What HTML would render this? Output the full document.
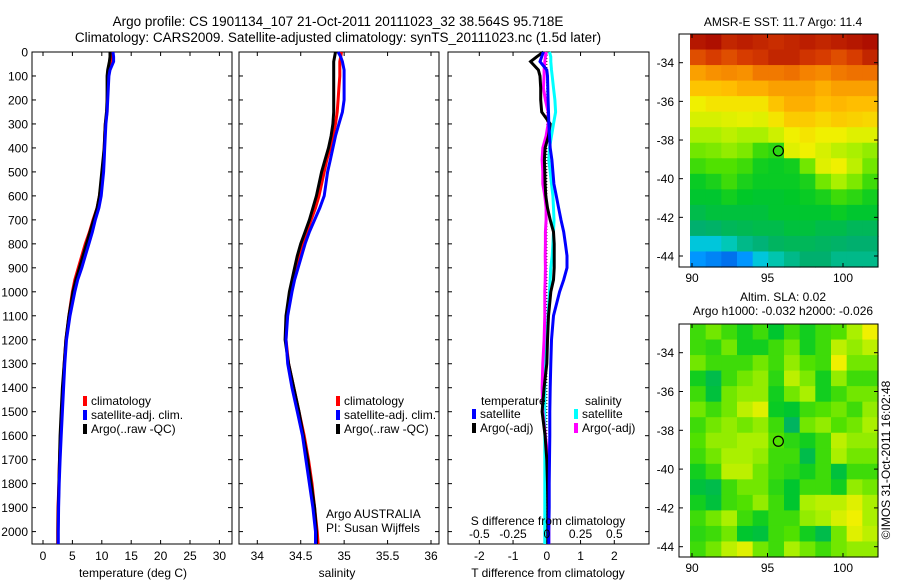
<!DOCTYPE html>
<html><head><meta charset="utf-8"><style>
html,body{margin:0;padding:0;background:#fff;}
svg{display:block;font-family:"Liberation Sans",sans-serif;}
text{font-size:12px;fill:#000;}
</style></head><body>
<svg id="c" width="900" height="580" viewBox="0 0 900 580" xmlns="http://www.w3.org/2000/svg">
<rect width="900" height="580" fill="#fff"/>
<text x="338" y="26" text-anchor="middle" style="font-size:13.5px">Argo profile: CS 1901134_107 21-Oct-2011 20111023_32 38.564S 95.718E</text>
<text x="338" y="42" text-anchor="middle" style="font-size:13.5px">Climatology: CARS2009. Satellite-adjusted climatology: synTS_20111023.nc (1.5d later)</text>
<g id="g"></g>
</svg>
<script>
const depths=[0,20,40,75,100,150,200,250,300,350,400,450,500,550,600,650,700,750,800,850,900,950,1000,1100,1200,1300,1400,1500,1600,1700,1800,1900,2000,2055];
const tempArgo=[11.4,11.4,11.3,11.0,10.9,10.9,10.9,10.8,10.6,10.5,10.4,10.2,10.0,9.8,9.6,9.2,8.6,8.0,7.4,6.8,6.2,5.6,5.1,4.4,3.9,3.6,3.3,3.1,2.9,2.8,2.7,2.6,2.55,2.55];
const tempClim=[11.6,11.7,11.8,11.3,11.1,11.0,10.9,10.9,10.6,10.5,10.4,10.3,10.1,9.9,9.6,9.2,8.5,7.9,7.2,6.6,6.0,5.4,5.0,4.4,3.9,3.6,3.4,3.2,3.0,2.8,2.7,2.55,2.5,2.5];
const tempSat=[11.9,12.0,12.0,11.4,11.2,11.1,11.0,10.9,10.7,10.6,10.5,10.4,10.3,10.1,9.9,9.5,8.9,8.4,7.8,7.2,6.6,5.9,5.4,4.6,4.0,3.7,3.5,3.3,3.1,2.9,2.75,2.65,2.6,2.6];
const salArgo=[34.9,34.89,34.88,34.88,34.88,34.88,34.88,34.88,34.87,34.85,34.82,34.78,34.74,34.71,34.68,34.64,34.6,34.55,34.5,34.46,34.43,34.4,34.37,34.33,34.32,34.36,34.42,34.48,34.53,34.58,34.62,34.66,34.68,34.68];
const salClim=[34.97,34.96,34.95,34.95,34.95,34.94,34.93,34.92,34.9,34.87,34.84,34.8,34.77,34.74,34.71,34.67,34.62,34.57,34.52,34.48,34.44,34.41,34.38,34.34,34.33,34.36,34.42,34.48,34.54,34.59,34.63,34.66,34.69,34.7];
const salSat=[34.93,34.96,34.98,35.0,35.0,35.0,35.0,34.98,34.94,34.9,34.87,34.84,34.81,34.79,34.77,34.72,34.66,34.6,34.55,34.51,34.47,34.43,34.4,34.35,34.33,34.35,34.4,34.46,34.52,34.56,34.6,34.64,34.67,34.67];
const dTsat=[-0.1,-0.15,-0.2,0,0.02,0.03,0.04,0.05,0.06,0.08,0.1,0.15,0.18,0.21,0.28,0.35,0.42,0.5,0.55,0.6,0.6,0.5,0.38,0.2,0.14,0.12,0.1,0.09,0.09,0.08,0.07,0.07,0.06,0.06];
const dTargo=[-0.1,-0.3,-0.48,-0.25,-0.2,-0.18,-0.18,-0.15,0.1,0.05,-0.05,-0.07,-0.06,-0.05,-0.03,0.02,0.1,0.2,0.22,0.22,0.22,0.2,0.12,0.05,0.02,0,-0.08,-0.14,-0.05,0,0.02,0.03,0.03,0.03];
const dSsat=[0.02,0.03,0.03,0.035,0.04,0.05,0.06,0.065,0.05,0.035,0.02,0.015,0.025,0.035,0.045,0.05,0.053,0.05,0.045,0.04,0.03,0.025,0.02,0.01,0,-0.01,-0.015,-0.015,-0.015,-0.015,-0.015,-0.015,-0.015,-0.015];
const dSargo=[-0.005,-0.01,-0.015,-0.02,-0.02,-0.025,-0.01,0.01,0.01,-0.005,-0.03,-0.035,-0.03,-0.03,-0.015,-0.005,-0.005,-0.01,-0.01,-0.012,-0.01,-0.012,-0.015,-0.015,-0.02,-0.03,-0.035,-0.03,-0.01,0.01,0.015,0.015,0.015,0.015];
const depthTicks=[0,100,200,300,400,500,600,700,800,900,1000,1100,1200,1300,1400,1500,1600,1700,1800,1900,2000];
const tempTicks=[0,5,10,15,20,25,30];
const salTicks=[34,34.5,35,35.5,36];
const salTickLabels=["34","34.5","35","35.5","36"];
const dTTicks=[-2,-1,0,1,2];
const dSTicks=[-0.5,-0.25,0,0.25,0.5];
const dSTickLabels=["-0.5","-0.25","0","0.25","0.5"];
const sstGrid=[
[.97,.98,.95,.96,.95,.94,.95,.96,.95,.96,.97,.98],
[.9,.92,.9,.92,.93,.95,.95,.93,.92,.9,.92,.95],
[.8,.82,.83,.82,.85,.85,.86,.84,.83,.85,.86,.86],
[.75,.75,.76,.78,.78,.8,.8,.8,.78,.8,.8,.8],
[.68,.7,.7,.7,.7,.75,.78,.78,.76,.77,.76,.76],
[.65,.65,.66,.67,.66,.7,.74,.74,.72,.74,.73,.72],
[.6,.6,.62,.6,.6,.64,.68,.7,.68,.68,.66,.66],
[.55,.56,.58,.56,.5,.48,.66,.68,.65,.62,.6,.58],
[.5,.52,.52,.5,.45,.44,.45,.55,.66,.68,.62,.55],
[.44,.46,.5,.46,.44,.44,.44,.46,.55,.6,.56,.5],
[.42,.42,.45,.43,.42,.42,.43,.44,.46,.5,.48,.45],
[.38,.4,.4,.4,.4,.42,.42,.42,.42,.44,.42,.42],
[.33,.34,.36,.37,.38,.38,.4,.4,.38,.38,.36,.36],
[.2,.2,.25,.3,.32,.35,.36,.36,.35,.34,.33,.33],
[.12,.1,.08,.12,.2,.26,.3,.33,.33,.3,.3,.3]];
const slaGrid=[
[.5,.55,.5,.45,.5,.42,.5,.45,.5,.52,.6,.68],
[.5,.48,.55,.45,.45,.5,.55,.45,.5,.62,.58,.62],
[.55,.5,.5,.5,.55,.5,.58,.52,.5,.68,.55,.55],
[.45,.38,.5,.55,.58,.48,.62,.56,.45,.58,.5,.5],
[.5,.4,.55,.58,.58,.45,.55,.6,.45,.5,.55,.55],
[.55,.5,.55,.62,.66,.44,.42,.5,.52,.55,.5,.58],
[.5,.55,.58,.55,.58,.5,.35,.55,.58,.52,.55,.6],
[.52,.58,.58,.6,.6,.52,.48,.45,.5,.62,.58,.58],
[.5,.55,.6,.6,.58,.5,.5,.38,.5,.6,.55,.55],
[.45,.5,.62,.62,.55,.5,.48,.45,.5,.4,.5,.5],
[.4,.38,.5,.55,.55,.48,.42,.5,.5,.45,.58,.55],
[.45,.4,.5,.52,.58,.5,.42,.6,.62,.62,.66,.6],
[.5,.55,.6,.5,.45,.5,.5,.58,.6,.65,.68,.6],
[.48,.5,.55,.42,.4,.5,.52,.45,.38,.55,.66,.62],
[.5,.55,.62,.66,.55,.5,.6,.55,.5,.55,.58,.58]];
const latTicks=[-34,-36,-38,-40,-42,-44];
const lonTicks=[90,95,100];
const argoLon=95.718, argoLat=-38.564;

const NS="http://www.w3.org/2000/svg";
const G=document.getElementById('g');
function mk(tag,at,parent){const e=document.createElementNS(NS,tag);for(const k in at)e.setAttribute(k,at[k]);(parent||G).appendChild(e);return e;}
function txt(x,y,s,anchor,parent){const t=mk('text',{x:x,y:y,'text-anchor':anchor||'start'},parent);t.textContent=s;return t;}
const Y=d=>52+d*0.2398;
const TOP=52,BOT=544;
const xT=v=>43+v*5.88;
const xS=v=>257.3+(v-34)*86.85;
const xD=v=>546.8+v*33.75;
const xDS=v=>546.8+v*4*33.75;

function frame(x0,x1,name){
 const r=mk('rect',{x:x0,y:TOP,width:x1-x0,height:BOT-TOP,fill:'none',stroke:'#000','stroke-width':1});
 
 
}
function line(pts,color,name,w){
 const p=mk('polyline',{points:pts.map(q=>q[0].toFixed(1)+','+Math.min(q[1],BOT).toFixed(1)).join(' '),fill:'none',stroke:color,'stroke-width':w||3,'stroke-linejoin':'miter'});
 
 
}
function depthTicksOn(x0,x1,labels){
 depthTicks.forEach(d=>{const y=Y(d);
  mk('line',{x1:x0,y1:y,x2:x0+4,y2:y,stroke:'#000'});
  mk('line',{x1:x1,y1:y,x2:x1-4,y2:y,stroke:'#000'});
  if(labels){const t=txt(x0-4,y+4.5,String(d),'end');
   
   }
 });
}
function xTicks(xs,fx,labels,yLab){
 xs.forEach((v,i)=>{const x=fx(v);
  mk('line',{x1:x,y1:TOP,x2:x,y2:TOP+4,stroke:'#000'});
  mk('line',{x1:x,y1:BOT,x2:x,y2:BOT-4,stroke:'#000'});
  if(labels){const t=txt(x,yLab,labels[i],'middle');
   
   }
 });
}
function legend(x,y,items,name){
 const g=mk('g',{});
 
 
 items.forEach((it,i)=>{mk('rect',{x:x,y:y+i*14-9,width:4,height:10,fill:it[0]},g);txt(x+8,y+i*14,it[1],'start',g);});
}
frame(32,232,'temperature-panel');
depthTicksOn(32,232,true);
xTicks(tempTicks,xT,tempTicks.map(String),560);
line(depths.map((d,i)=>[xT(tempClim[i]),Y(d)]),'#f00','temp-climatology-line');
line(depths.map((d,i)=>[xT(tempArgo[i]),Y(d)]),'#000','temp-argo-line');
line(depths.map((d,i)=>[xT(tempSat[i]),Y(d)]),'#00f','temp-satellite-line');
txt(133,577,'temperature (deg C)','middle');
legend(83,405,[['#f00','climatology'],['#00f','satellite-adj. clim.'],['#000','Argo(..raw -QC)']],'temperature-legend');
frame(239,439,'salinity-panel');
depthTicksOn(239,439,false);
xTicks(salTicks,xS,salTickLabels,560);
line(depths.map((d,i)=>[xS(salClim[i]),Y(d)]),'#f00','sal-climatology-line');
line(depths.map((d,i)=>[xS(salArgo[i]),Y(d)]),'#000','sal-argo-line');
line(depths.map((d,i)=>[xS(salSat[i]),Y(d)]),'#00f','sal-satellite-line');
txt(337,577,'salinity','middle');
legend(336,405,[['#f00','climatology'],['#00f','satellite-adj. clim.'],['#000','Argo(..raw -QC)']],'salinity-legend');
txt(326,518,'Argo AUSTRALIA','start');
txt(326,532,'PI: Susan Wijffels','start');
frame(448,649,'difference-panel');
depthTicksOn(448,649,false);
xTicks(dTTicks,xD,dTTicks.map(String),560);
mk('line',{x1:xD(0),y1:TOP,x2:xD(0),y2:BOT,stroke:'#000','stroke-dasharray':'1,2'});
line(depths.map((d,i)=>[xDS(dSsat[i]),Y(d)]),'#0ff','sal-diff-satellite-line');
line(depths.map((d,i)=>[xDS(dSargo[i]),Y(d)]),'#f0f','sal-diff-argo-line');
line(depths.map((d,i)=>[xD(dTargo[i]),Y(d)]),'#000','temp-diff-argo-line');
line(depths.map((d,i)=>[xD(dTsat[i]),Y(d)]),'#00f','temp-diff-satellite-line');
dSTicks.forEach((v,i)=>{const t=txt(xDS(v),538,dSTickLabels[i],'middle');});
txt(548,525,'S difference from climatology','middle');
txt(548,577,'T difference from climatology','middle');
txt(481,405,'temperature','start');
txt(585,405,'salinity','start');
legend(472,418,[['#00f','satellite'],['#000','Argo(-adj)']],'temp-diff-legend');
legend(574,418,[['#0ff','satellite'],['#f0f','Argo(-adj)']],'sal-diff-legend');
const stops=[[0,[0,40,200]],[.12,[0,150,255]],[.22,[0,210,210]],[.33,[0,175,110]],[.43,[0,200,40]],[.52,[80,225,0]],[.6,[170,240,0]],[.68,[240,240,0]],[.76,[255,190,0]],[.84,[245,130,0]],[.92,[215,60,0]],[1,[160,0,0]]];
function cmap(t){for(let i=1;i<stops.length;i++){if(t<=stops[i][0]){const a=stops[i-1],b=stops[i],f=(t-a[0])/(b[0]-a[0]);return 'rgb('+a[1].map((c,k)=>Math.round(c+(b[1][k]-c)*f)).join(',')+')';}}return 'rgb(160,0,0)';}
function map(y0,y1,grid,name,lat34,lat44){
 const x0=679,x1=878,dx0=690;
 const g=mk('g',{});
 
 
 const rows=grid.length,cols=grid[0].length,cw=(x1-dx0)/cols,ch=(y1-y0)/rows;
 grid.forEach((row,r)=>row.forEach((v,c)=>{
  const cell=mk('rect',{x:(dx0+c*cw).toFixed(2),y:(y0+r*ch).toFixed(2),width:(cw+0.6).toFixed(2),height:(ch+0.6).toFixed(2),fill:cmap(v)},g);
  
 }));
 mk('rect',{x:x0,y:y0,width:x1-x0,height:y1-y0,fill:'none',stroke:'#000'});
 const LY=l=>lat34+(l+34)/(-10)*(lat44-lat34);
 const LX=l=>692+(l-90)*15.1;
 latTicks.forEach(l=>{const y=LY(l);mk('line',{x1:x0,y1:y,x2:x0+4,y2:y,stroke:'#000'});mk('line',{x1:x1,y1:y,x2:x1-4,y2:y,stroke:'#000'});
  const t=txt(x0-5,y+4.5,String(l),'end');});
 lonTicks.forEach(l=>{const x=LX(l);mk('line',{x1:x,y1:y0,x2:x,y2:y0+4,stroke:'#000'});mk('line',{x1:x,y1:y1,x2:x,y2:y1-4,stroke:'#000'});
  const t=txt(x,y1+15,String(l),'middle');});
 const c=mk('circle',{cx:LX(argoLon),cy:LY(argoLat),r:5,fill:'none',stroke:'#000','stroke-width':1.2});
 
 
}
map(34,267,sstGrid,'sst-map',62.7,256);
map(324,557,slaGrid,'sla-map',352.7,546.7);
txt(783,26,'AMSR-E SST: 11.7 Argo: 11.4','middle');
txt(783,301,'Altim. SLA: 0.02','middle');
txt(783,315,'Argo h1000: -0.032 h2000: -0.026','middle');
const rt=txt(0,0,'\u00A9IMOS 31-Oct-2011 16:02:48','middle');
rt.setAttribute('transform','translate(890,460) rotate(-90)');


</script>
</body></html>
